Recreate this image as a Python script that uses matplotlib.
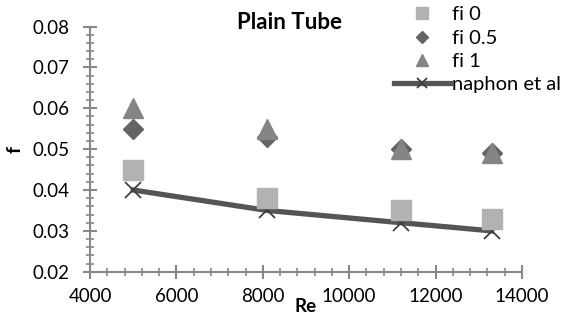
import matplotlib
matplotlib.use("Agg")
import matplotlib.pyplot as plt
from matplotlib.ticker import MultipleLocator

plt.rcParams['font.family'] = ['Lato', 'DejaVu Sans']

re = [5000, 8100, 11200, 13300]
fi0 = [0.045, 0.038, 0.035, 0.033]
fi05 = [0.055, 0.053, 0.050, 0.049]
fi1 = [0.060, 0.055, 0.050, 0.049]
naphon = [0.040, 0.035, 0.032, 0.030]
yticks = [0.02, 0.03, 0.04, 0.05, 0.06, 0.07, 0.08]
ytick_labels = ['0.02', '0.03', '0.04', '0.05', '0.06', '0.07', '0.08']

fig = plt.figure(figsize=(5.63, 3.16), dpi=100)
ax = fig.add_axes([0.16, 0.14, 0.767, 0.776])

ax.plot(re, naphon, color='#555555', lw=3.8, marker='x', ms=12, mew=1.3,
        mec='#404040', zorder=2, label='naphon et al')
ax.plot(re, fi0, ls='none', marker='s', ms=14, color='#b2b2b2', zorder=3, label='fi 0')
ax.plot(re, fi05, ls='none', marker='D', ms=10, color='#646464', zorder=4, label='fi 0.5')
ax.plot(re, fi1, ls='none', marker='^', ms=15, color='#858585', zorder=5, label='fi 1')

ax.set_xlim(4000, 14000)
ax.set_ylim(0.02, 0.08)
ax.xaxis.set_major_locator(MultipleLocator(2000))
ax.xaxis.set_minor_locator(MultipleLocator(400))
ax.yaxis.set_minor_locator(MultipleLocator(0.002))
ax.set_yticks(yticks)
ax.set_yticklabels(ytick_labels)

for s in ['top', 'right']:
    ax.spines[s].set_visible(False)
for s in ['left', 'bottom']:
    ax.spines[s].set_color('#888888')
    ax.spines[s].set_linewidth(1.5)

ax.tick_params(which='major', direction='inout', length=10, width=1.5, color='#888888',
               labelsize=13.5)
ax.tick_params(axis='x', which='major', pad=7)
ax.tick_params(axis='y', which='major', pad=10)
ax.tick_params(which='minor', direction='inout', length=6, width=1.2, color='#888888')

ax.set_xlabel('Re', fontsize=13.5, fontweight='bold')
ax.set_ylabel('f', fontsize=14, fontweight='bold')
ax.yaxis.set_label_coords(-0.155, 0.5)
ax.xaxis.set_label_coords(0.498, -0.108)

fig.text(0.515, 0.93, 'Plain Tube', fontsize=16, fontweight='bold', ha='center', va='center')

handles, labels = ax.get_legend_handles_labels()
order = [1, 2, 3, 0]
leg = fig.legend([handles[i] for i in order], [labels[i] for i in order],
                 loc='upper left', bbox_to_anchor=(394 / 563, 0.98),
                 bbox_transform=fig.transFigure, frameon=False,
                 fontsize=14.5, handlelength=2.8, handletextpad=0.1,
                 labelspacing=0.3, borderaxespad=0, borderpad=0, markerscale=0.6)

fig.savefig('out.png', dpi=100)
